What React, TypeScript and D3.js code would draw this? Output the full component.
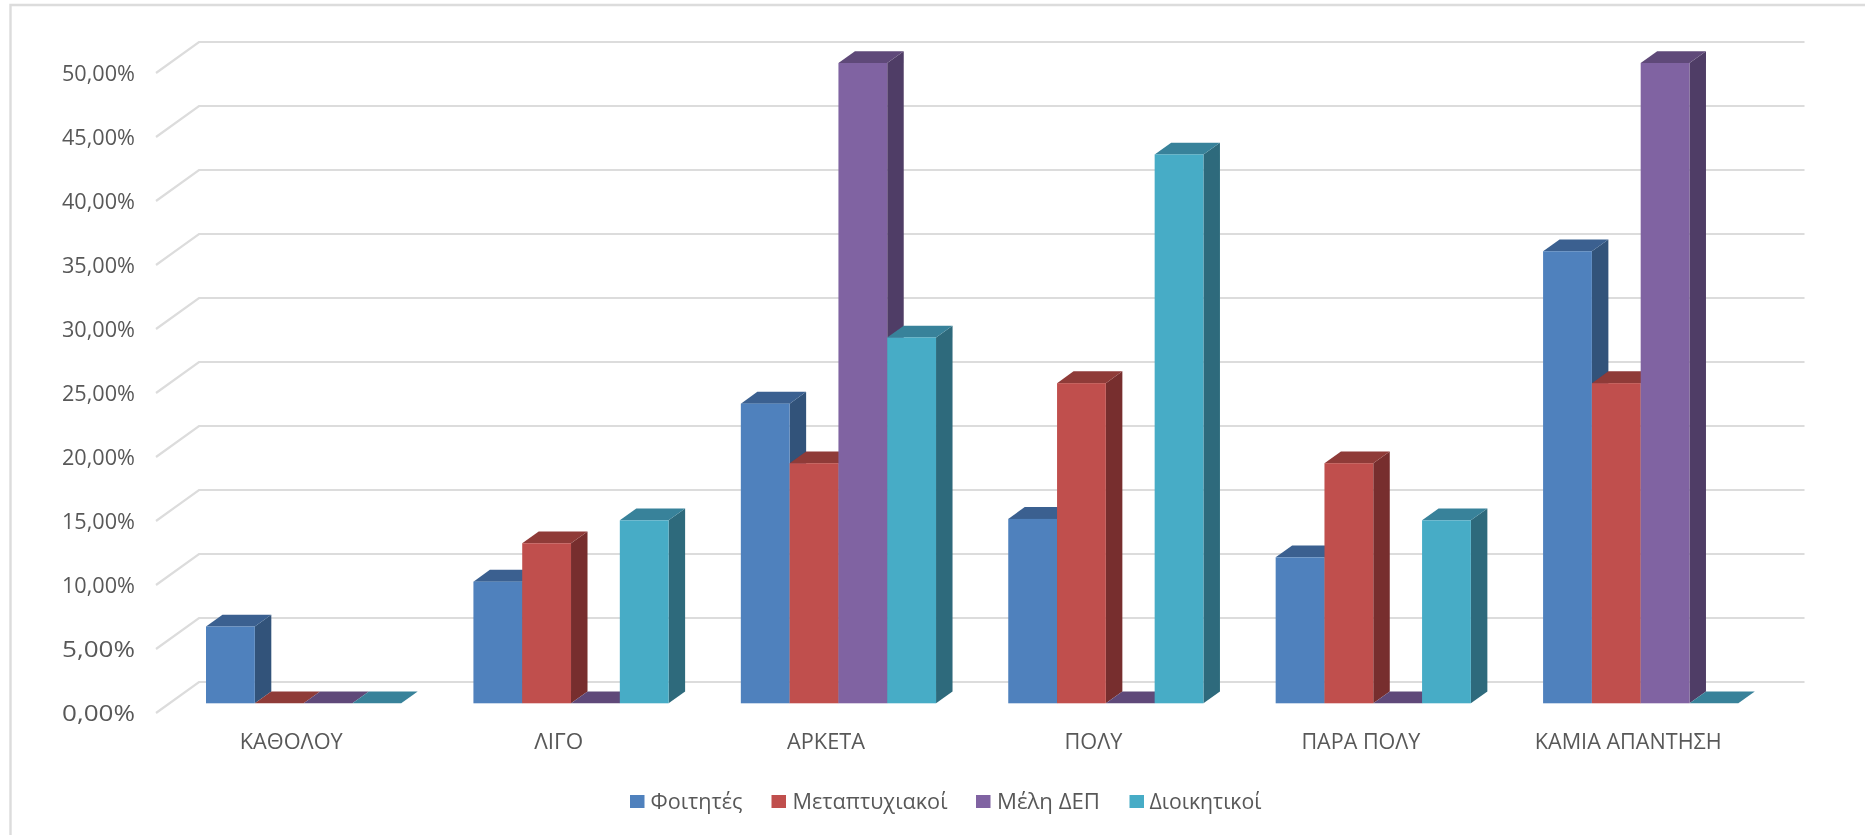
import React from "react";
import * as d3 from "d3";

const categories = ["ΚΑΘΟΛΟΥ", "ΛΙΓΟ", "ΑΡΚΕΤΑ", "ΠΟΛΥ", "ΠΑΡΑ ΠΟΛΥ", "ΚΑΜΙΑ ΑΠΑΝΤΗΣΗ"];
const seriesNames = ["Φοιτητές", "Μεταπτυχιακοί", "Μέλη ΔΕΠ", "Διοικητικοί"];
const foititesValues = [6.0, 9.5, 23.4, 14.4, 11.4, 35.3];
const metaptyxiakoiValues = [0, 12.5, 18.75, 25, 18.75, 25];
const meliDepValues = [0, 0, 50, 0, 0, 50];
const dioikitikoiValues = [0, 14.29, 28.57, 42.86, 14.29, 0];
const allValues = [foititesValues, metaptyxiakoiValues, meliDepValues, dioikitikoiValues];
const yTicks = [0, 5, 10, 15, 20, 25, 30, 35, 40, 45, 50];
const frontColors = ["#4F81BD", "#C0504D", "#8064A2", "#47ACC6"];
const topColors = ["#3A6090", "#8F3A38", "#5F4A79", "#38829A"];
const sideColors = ["#30527A", "#772F2D", "#503E66", "#2E6B7C"];
const legendSwatchX = [630, 771.5, 976, 1129.5];
const legendTextX = [650.5, 792.5, 997, 1149.5];
const legendTextW = [92, 155, 103, 112];
const categoryTextW = [103, 49, 78, 58, 119, 187];

const W = 1865;
const H = 835;
const FONT = "'Open Sans', 'Noto Sans', sans-serif";
const TEXT = "#595959";

const yBar = d3.scaleLinear().domain([0, 50]).range([703.3, 63]);
const yFront = d3.scaleLinear().domain([0, 50]).range([713, 73]);
const yBack = d3.scaleLinear().domain([0, 50]).range([682, 42]);
const xGroup = d3.scaleBand<string>().domain(categories).range([158.5, 1763]).paddingInner(0).paddingOuter(0);
const barW = 48.8;
const groupPad = 47.5;
const depthX = 16.5;
const depthY = 11.8;

const pts = (p: number[][]) => p.map((q) => q.join(",")).join(" ");

export default function App() {
  return (
    <svg
      width={W}
      height={H}
      viewBox={`0 0 ${W} ${H}`}
      style={{ position: "absolute", left: 0, top: 0, display: "block", background: "#fff" }}
    >
      <defs>
        <filter id="soft" x="-2%" y="-2%" width="104%" height="104%">
          <feGaussianBlur stdDeviation="0.6" />
        </filter>
      </defs>
      <g filter="url(#soft)">
        <path d={`M10.5 ${H} V5 H${W}`} fill="none" stroke="#DCDCDC" strokeWidth={2.4} />
        {yTicks.map((t) => (
          <g key={t}>
            <polyline
              points={pts([[156, yFront(t)], [199, yBack(t)], [1804.5, yBack(t)]])}
              fill="none"
              stroke="#DCDCDC"
              strokeWidth={2.2}
            />
            <text
              x={135}
              y={yFront(t) + 2}
              textAnchor="end"
              dominantBaseline="middle"
              fontFamily={FONT}
              fontSize={21.5}
              fill={TEXT}
              textLength={73}
              lengthAdjust="spacingAndGlyphs"
            >
              {t.toFixed(2).replace(".", ",")}%
            </text>
          </g>
        ))}
        {categories.map((c, ci) => {
          const g0 = (xGroup(c) as number) + groupPad;
          return (
            <g key={c}>
              {allValues.map((vals, si) => {
                const x0 = g0 + si * barW;
                const x1 = x0 + barW;
                const top = yBar(vals[ci]);
                const base = yBar(0);
                return (
                  <g key={si}>
                    <polygon
                      points={pts([[x1, top], [x1 + depthX, top - depthY], [x1 + depthX, base - depthY], [x1, base]])}
                      fill={sideColors[si]}
                    />
                    <polygon
                      points={pts([[x0, top], [x0 + depthX, top - depthY], [x1 + depthX, top - depthY], [x1, top]])}
                      fill={topColors[si]}
                    />
                    <rect x={x0} y={top} width={barW} height={base - top} fill={frontColors[si]} />
                  </g>
                );
              })}
              <text
                x={(xGroup(c) as number) + xGroup.bandwidth() / 2 - 1}
                y={743}
                textAnchor="middle"
                dominantBaseline="middle"
                fontFamily={FONT}
                fontSize={21}
                fill={TEXT}
                textLength={categoryTextW[ci]}
                lengthAdjust="spacingAndGlyphs"
              >
                {c}
              </text>
            </g>
          );
        })}
        {seriesNames.map((s, i) => (
          <g key={s}>
            <rect x={legendSwatchX[i]} y={795} width={14.5} height={13} fill={frontColors[i]} />
            <text
              x={legendTextX[i]}
              y={803}
              dominantBaseline="middle"
              fontFamily={FONT}
              fontSize={21}
              fill={TEXT}
              textLength={legendTextW[i]}
              lengthAdjust="spacingAndGlyphs"
            >
              {s}
            </text>
          </g>
        ))}
      </g>
    </svg>
  );
}
